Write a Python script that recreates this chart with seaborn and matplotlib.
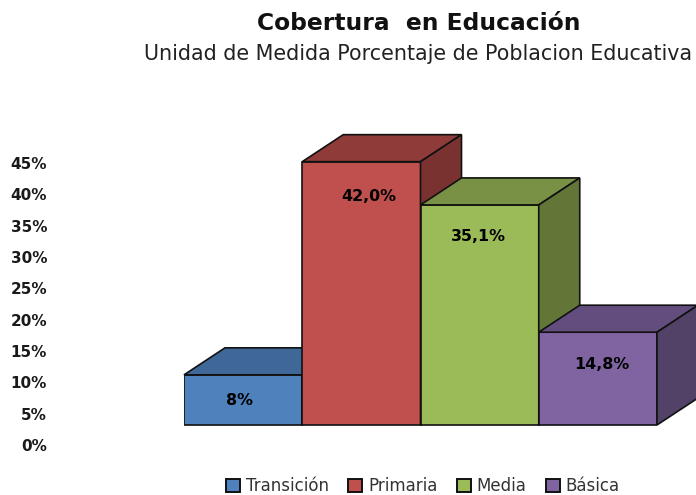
import pandas as pd
import matplotlib.pyplot as plt
import seaborn as sns
from matplotlib.patches import Patch, Polygon

niveles = ["Transición", "Primaria", "Media", "Básica"]
cobertura = [8.0, 42.0, 35.1, 14.8]
etiquetas = ["8%", "42,0%", "35,1%", "14,8%"]
marcas = [0, 5, 10, 15, 20, 25, 30, 35, 40, 45]
frente = ["#4F81BD", "#C0504D", "#9BBB59", "#8064A2"]
arriba = ["#3F6797", "#8F3B39", "#789144", "#634D7F"]
lado = ["#365880", "#7A3230", "#627638", "#534268"]

W, H = 696, 495
sns.set_theme(style="white")
plt.rcParams['font.family'] = ['DejaVu Sans']

df = pd.DataFrame({"nivel": niveles, "cobertura": cobertura})

fig = plt.figure(figsize=(W / 100, H / 100), dpi=100)
# axes box: bar base is at y=425 px, 6.27 px per percent, extra room below for the 0% label
px = 6.27
abajo = 4.0
ax = fig.add_axes([184 / W, (H - 425 - abajo * px) / H, (657 - 184) / W, (300 + abajo * px) / H])
sns.barplot(data=df, x="nivel", y="cobertura", hue="nivel", order=niveles, hue_order=niveles,
            palette=frente, saturation=1, width=1.0, dodge=False, legend=False, edgecolor="#111111",
            linewidth=1.2, ax=ax)

# 3D depth of the box, 41 x 27 px
dx = 41 / (473 / 4)
dy = 27 / px
# label nudges seen in the reference
nudge_x = [-0.03, 0.06, -0.01, 0.03]
nudge_y = [-4.1, -5.5, -5.1, -5.1]
for i, cont in enumerate(ax.containers):
    bar = cont.patches[0]
    bar.set_zorder(3 + i)
    x0 = bar.get_x()
    x1 = x0 + bar.get_width()
    y = bar.get_height()
    top = Polygon([(x0, y), (x1, y), (x1 + dx, y + dy), (x0 + dx, y + dy)], closed=True,
                  facecolor=arriba[i], edgecolor="#111111", lw=1.2, clip_on=False, zorder=3 + i)
    side = Polygon([(x1, 0), (x1, y), (x1 + dx, y + dy), (x1 + dx, dy)], closed=True,
                   facecolor=lado[i], edgecolor="#111111", lw=1.2, clip_on=False, zorder=3 + i)
    ax.add_patch(top)
    ax.add_patch(side)
    ax.text(i + nudge_x[i], y + nudge_y[i], etiquetas[i], ha="center", va="center",
            fontsize=11.4, fontweight="bold", color="black", zorder=10)

# the tick labels sit lower than the bar base in the reference
ax.set_yticks([m - 3.2 for m in marcas])
ax.set_yticklabels([f"{m}%" for m in marcas], fontsize=11, fontweight="bold", color="#1a1a1a")
ax.tick_params(axis="y", length=0, pad=137 * 0.72)
ax.set_xticks([])
ax.set_xlabel("")
ax.set_ylabel("")
ax.set_xlim(-0.5, 3.5)
ax.set_ylim(-abajo, 300 / px)
sns.despine(ax=ax, left=True, bottom=True)

handles = [Patch(facecolor=c, edgecolor="#111111", lw=1.4, label=n) for c, n in zip(frente, niveles)]
fig.legend(handles=handles, ncol=4, loc="center", bbox_to_anchor=(423 / W, 1 - 486 / H), frameon=False,
           fontsize=12, handlelength=0.85, handleheight=0.85, handletextpad=0.35, columnspacing=1.15,
           labelcolor="#333333")

fig.text(419 / W, 1 - 23 / H, "Cobertura  en Educación", ha="center", va="center", fontsize=16.85,
         fontweight="bold", color="#111111")
fig.text(418.5 / W, 1 - 54 / H, "Unidad de Medida Porcentaje de Poblacion Educativa", ha="center", va="center",
         fontsize=14.85, color="#222222")

plt.savefig("out.png", dpi=100)
plt.close()
